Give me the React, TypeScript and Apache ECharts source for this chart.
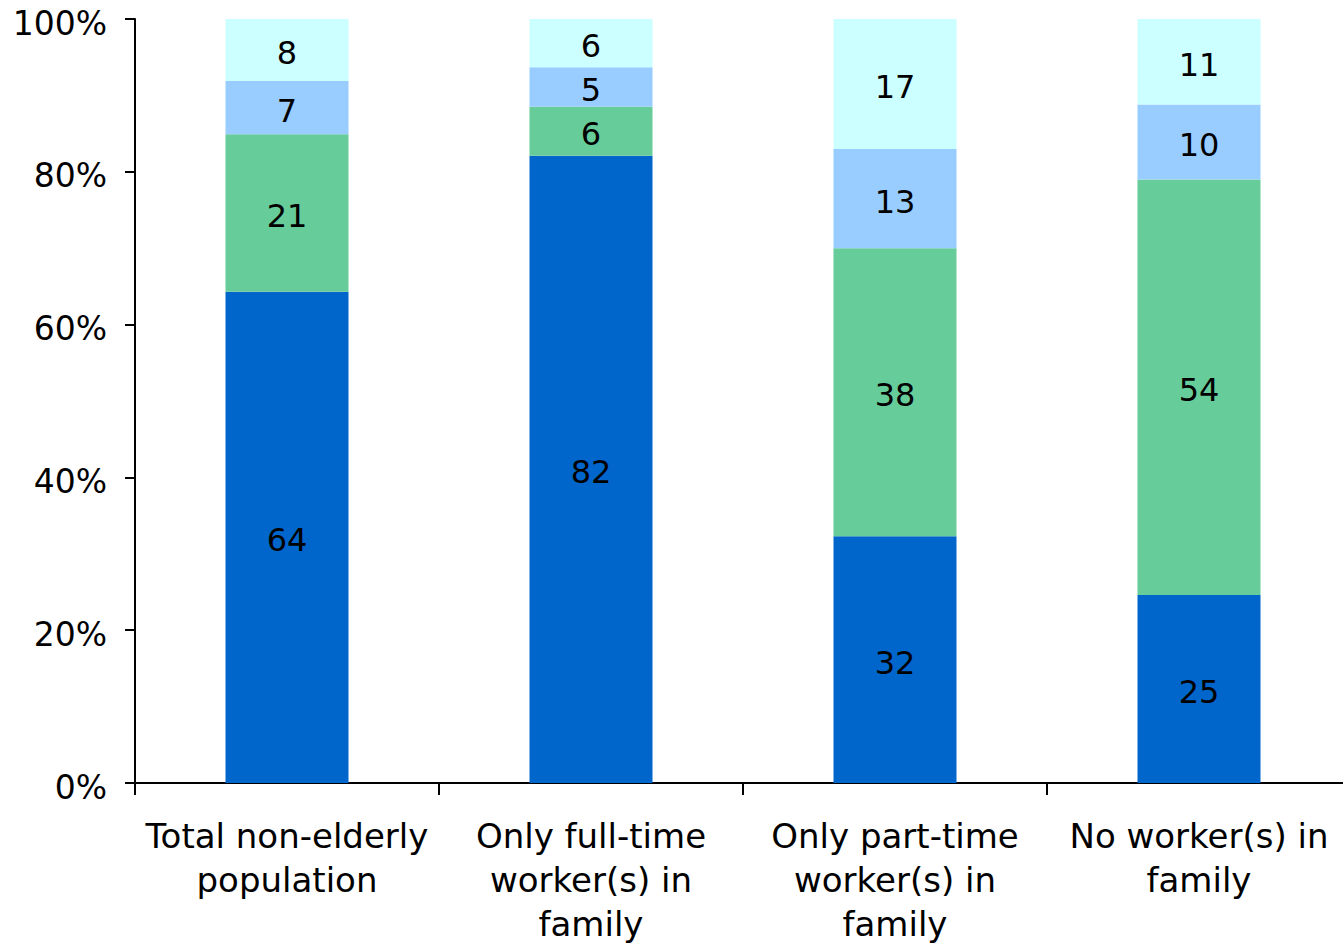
import React, { useEffect, useRef } from "react";
import * as echarts from "echarts";

const categories = [
  "Total non-elderly\npopulation",
  "Only full-time\nworker(s) in\nfamily",
  "Only part-time\nworker(s) in\nfamily",
  "No worker(s) in\nfamily",
];

// Shares (%); labels show rounded values
const seriesA = [64.3, 82.1, 32.3, 24.6];
const seriesB = [20.6, 6.4, 37.7, 54.4];
const seriesC = [7.0, 5.2, 13.0, 9.8];
const seriesD = [8.1, 6.3, 17.0, 11.2];

const yTicks = [0, 20, 40, 60, 80, 100];

const colors = ["#0066CC", "#66CC99", "#99CCFF", "#CCFFFF"];
const FONT = "DejaVu Sans, Verdana, sans-serif";

export default function App() {
  const ref = useRef<HTMLDivElement>(null);
  useEffect(() => {
    document.body.style.margin = "0";
    if (!ref.current) return;
    const chart = echarts.init(ref.current, null, { renderer: "svg" });
    const mk = (name: string, data: number[], i: number) => ({
      name,
      type: "bar",
      stack: "total",
      data,
      barWidth: 123,
      itemStyle: { color: colors[i] },
      label: {
        show: true,
        position: "inside",
        offset: [0, 3],
        color: "#000",
        fontFamily: FONT,
        fontSize: 32,
        formatter: (p: any) => String(Math.round(p.value)),
      },
    });
    chart.setOption({
      animation: false,
      textStyle: { fontFamily: FONT },
      grid: {
        left: 135,
        right: -8,
        top: 19,
        bottom: 162,
        containLabel: false,
        outerBoundsMode: "none",
      },
      xAxis: {
        type: "category",
        data: categories,
        boundaryGap: true,
        axisLine: { show: true, lineStyle: { color: "#000", width: 2 } },
        axisTick: { show: true, length: 12, lineStyle: { color: "#000", width: 2 } },
        axisLabel: {
          color: "#000",
          fontFamily: FONT,
          fontSize: 34,
          lineHeight: 44,
          margin: 31,
          interval: 0,
        },
      },
      yAxis: {
        type: "value",
        min: yTicks[0],
        max: yTicks[yTicks.length - 1],
        interval: 20,
        splitLine: { show: false },
        axisLine: { show: true, lineStyle: { color: "#000", width: 2 } },
        axisTick: { show: true, length: 10, lineStyle: { color: "#000", width: 2 } },
        axisLabel: {
          color: "#000",
          fontFamily: FONT,
          fontSize: 33,
          margin: 28,
          formatter: (v: number) => "{a|" + v + "%}",
          rich: {
            a: {
              color: "#000",
              fontFamily: FONT,
              fontSize: 33,
              padding: [8, 0, 0, 0],
            },
          },
        },
      },
      series: [
        mk("A", seriesA, 0),
        mk("B", seriesB, 1),
        mk("C", seriesC, 2),
        mk("D", seriesD, 3),
      ],
    });
    return () => chart.dispose();
  }, []);
  return <div ref={ref} style={{ width: 1343, height: 945 }} />;
}
